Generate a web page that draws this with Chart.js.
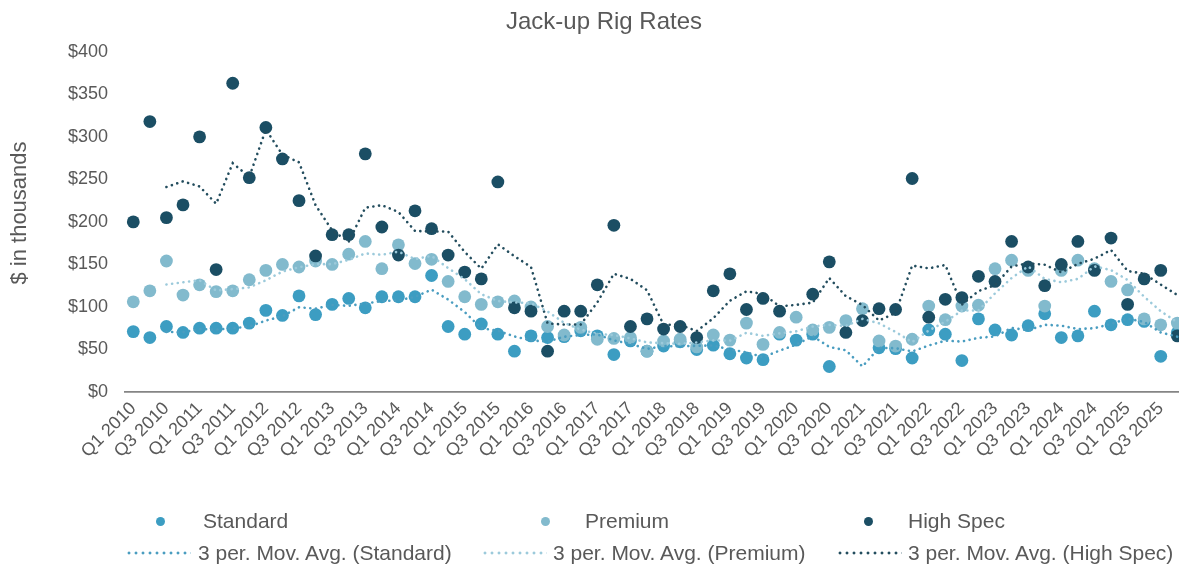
<!DOCTYPE html>
<html>
<head>
<meta charset="utf-8">
<script src="https://cdn.jsdelivr.net/npm/chart.js@4.4.1/dist/chart.umd.min.js"></script>
<style>
  html, body { margin: 0; padding: 0; background: #ffffff; overflow: hidden; width: 1179px; height: 571px; }
  #wrap { position: relative; width: 1192px; height: 571px; }
  canvas { position: absolute; left: 0; top: 0; }
  .lg { position: absolute; font-family: "Liberation Sans", Arial, sans-serif; font-size: 21px; color: #595959; white-space: nowrap; line-height: 22px; }
  .dot { position: absolute; width: 9px; height: 9px; border-radius: 50%; }
  .dash { position: absolute; height: 4px; background-size: 7px 4px; background-repeat: repeat-x; }
</style>
</head>
<body>
<div id="wrap">
  <canvas id="c" width="1192" height="571"></canvas>
</div>
<script>
// ---- data ($ thousands) ----
const years = [2010, 2011, 2012, 2013, 2014, 2015, 2016, 2017, 2018, 2019, 2020, 2021, 2022, 2023, 2024, 2025];
const quarters = ['Q1', 'Q2', 'Q3', 'Q4'];
const categories = [];
years.forEach(y => quarters.forEach(q => categories.push(q + ' ' + y)));

const standard = [71, 64, 77, 70, 75, 75, 75, 81, 96, 90, 113, 91, 103, 110, 99, 112,
                  112, 112, 137, 77, 68, 80, 68, 48, 66, 64, 65, 72, 66, 44, 60, 48,
                  54, 59, 50, 55, 45, 40, 38, 68, 61, 68, 30, null, null, 52, 51, 40,
                  73, 68, 37, 86, 73, 67, 78, 92, 64, 66, 95, 79, 85, 83, 42, 70];
const premium  = [106, 119, 154, 114, 126, 118, 119, 132, 143, 150, 147, 154, 150, 162, 177, 145,
                  173, 151, 156, 130, 112, 103, 106, 107, 100, 77, 67, 76, 62, 63, 64, 48,
                  60, 62, 53, 67, 61, 81, 56, 70, 88, 73, 76, 84, 98, 60, 54, 62,
                  101, 85, 101, 102, 145, 155, 143, 101, 143, 155, 145, 130, 120, 86, 79, 81];
const highSpec = [200, 318, 205, 220, 300, 144, 363, 252, 311, 274, 225, 160, 185, 185, 280, 194,
                  161, 213, 192, 161, 141, 133, 247, 99, 95, 48, 95, 95, 126, 196, 77, 86,
                  74, 77, 64, 119, 139, 97, 110, 95, null, 115, 153, 70, 84, 98, 97, 251,
                  88, 109, 111, 136, 130, 177, 147, 125, 150, 177, 143, 181, 103, 133, 143, 66];
const yTicks = [0, 50, 100, 150, 200, 250, 300, 350, 400];
const maPeriod = 3;

// 3-period moving average trendline of each series (as in the source chart)
function movingAverage(arr, n) {
  return arr.map((v, i) => {
    if (i < n - 1) return null;
    const w = arr.slice(i - n + 1, i + 1).filter(x => x !== null);
    return w.length ? w.reduce((a, b) => a + b, 0) / w.length : null;
  });
}

const colStd = '#3c9dc2', colPrem = '#82bacd', colHigh = '#1b4e64';
const colStdMA = '#4a9dc0', colPremMA = '#9ccadb', colHighMA = '#234d5e';
const FONT = '"Liberation Sans", Arial, sans-serif';
const yTitleText = '$ in thousands';

const pointDs = (label, data, color, order) => ({
  label, data, order,
  showLine: false,
  pointRadius: 6.4, pointHoverRadius: 6.4,
  pointBackgroundColor: color, pointBorderColor: color, pointBorderWidth: 0,
  borderColor: color, backgroundColor: color
});
const maDs = (label, data, color) => ({
  label, data, order: 0,
  borderColor: color, borderWidth: 2.6, borderDash: [0.1, 5.6], borderCapStyle: 'round',
  pointRadius: 0, fill: false, tension: 0, spanGaps: true
});

// title nudged to the right, and y-axis title drawn beside the axis
const layoutTweaks = {
  id: 'layoutTweaks',
  afterLayout(chart) {
    const t = chart.titleBlock;
    if (t) { t.left += 8; t.right += 8; }
  },
  afterDraw(chart) {
    const ctx = chart.ctx;
    ctx.save();
    ctx.translate(20, 213);
    ctx.rotate(-Math.PI / 2);
    ctx.font = '22px ' + FONT;
    ctx.fillStyle = '#595959';
    ctx.textAlign = 'center';
    ctx.textBaseline = 'middle';
    ctx.fillText(yTitleText, 0, 0);
    ctx.restore();
  }
};

new Chart(document.getElementById('c'), {
  type: 'line',
  data: {
    labels: categories,
    datasets: [
      pointDs('Standard', standard, colStd, 3),
      pointDs('Premium', premium, colPrem, 2),
      pointDs('High Spec', highSpec, colHigh, 1),
      maDs('3 per. Mov. Avg. (Standard)', movingAverage(standard, maPeriod), colStdMA),
      maDs('3 per. Mov. Avg. (Premium)', movingAverage(premium, maPeriod), colPremMA),
      maDs('3 per. Mov. Avg. (High Spec)', movingAverage(highSpec, maPeriod), colHighMA)
    ]
  },
  plugins: [layoutTweaks],
  options: {
    responsive: false,
    devicePixelRatio: 1,
    animation: false,
    layout: { padding: 0 },
    plugins: {
      legend: { display: false },
      tooltip: { enabled: false },
      title: {
        display: true,
        text: 'Jack-up Rig Rates',
        color: '#595959',
        font: { family: FONT, size: 24, weight: 'normal' },
        padding: { top: 8, bottom: 15 }
      }
    },
    scales: {
      x: {
        type: 'category',
        offset: true,
        grid: { display: false, drawTicks: false },
        border: { display: true, color: '#858585', width: 1.8 },
        ticks: {
          autoSkip: false,
          maxRotation: 45, minRotation: 45,
          padding: 6,
          color: '#595959',
          font: { family: FONT, size: 18 },
          callback: function (value, index) { return index % 2 === 0 ? this.getLabelForValue(value) : ''; }
        },
        afterFit: s => { s.height = 179; s.paddingLeft = 0; s.paddingRight = 0; }
      },
      y: {
        min: 0, max: 400,
        grid: { display: false, drawTicks: false },
        border: { display: false },
        afterBuildTicks: s => { s.ticks = yTicks.map(v => ({ value: v })); },
        ticks: {
          padding: 17,
          color: '#595959',
          font: { family: FONT, size: 18 },
          callback: v => '$' + v
        },
        title: { display: false },
        afterFit: s => { s.width = 125; }
      }
    }
  }
});

// ---- legend (two rows, three columns) ----
const legendItems = [
  { kind: 'dot', color: colStd, text: 'Standard', mx: 156, tx: 203, y: 521 },
  { kind: 'dot', color: colPrem, text: 'Premium', mx: 541, tx: 585, y: 521 },
  { kind: 'dot', color: colHigh, text: 'High Spec', mx: 864, tx: 908, y: 521 },
  { kind: 'dash', color: colStdMA, text: '3 per. Mov. Avg. (Standard)', mx: 127, w: 64, tx: 198, y: 553 },
  { kind: 'dash', color: colPremMA, text: '3 per. Mov. Avg. (Premium)', mx: 483, w: 64, tx: 553, y: 553 },
  { kind: 'dash', color: colHighMA, text: '3 per. Mov. Avg. (High Spec)', mx: 838, w: 64, tx: 908, y: 553 }
];
const wrap = document.getElementById('wrap');
legendItems.forEach(it => {
  const m = document.createElement('div');
  if (it.kind === 'dot') {
    m.className = 'dot';
    m.style.left = it.mx + 'px';
    m.style.top = (it.y - 4.5) + 'px';
    m.style.background = it.color;
  } else {
    m.className = 'dash';
    m.style.left = it.mx + 'px';
    m.style.width = it.w + 'px';
    m.style.top = (it.y - 2) + 'px';
    m.style.backgroundImage = 'radial-gradient(circle at 2px 2px, ' + it.color + ' 1.3px, rgba(255,255,255,0) 1.7px)';
  }
  wrap.appendChild(m);
  const t = document.createElement('div');
  t.className = 'lg';
  t.textContent = it.text;
  t.style.left = it.tx + 'px';
  t.style.top = (it.y - 11) + 'px';
  wrap.appendChild(t);
});
</script>
</body>
</html>
